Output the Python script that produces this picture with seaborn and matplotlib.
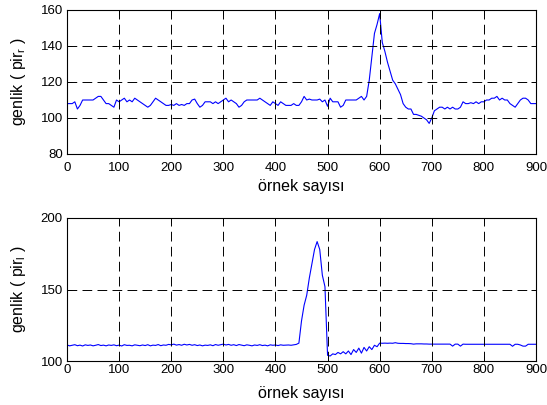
import numpy as np
import pandas as pd
import matplotlib
matplotlib.use("Agg")
import matplotlib.pyplot as plt
import seaborn as sns

# ---------------- data ----------------
step = 5

top_values = [
    108, 108, 108, 109, 105, 107, 110, 110, 110, 110,          # 0-45
    110, 111, 112, 112, 110, 108, 108, 107, 106, 110,          # 50-95
    109, 110, 111, 109, 110, 109, 111, 110, 109, 108,          # 100-145
    107, 106, 107, 109, 111, 110, 109, 108, 107, 107,          # 150-195
    107.5, 107, 108, 107, 107.5, 107, 108, 108, 110, 110.5,    # 200-245
    108, 106, 107, 109, 109, 109, 108, 109, 108, 109,          # 250-295
    110, 111, 109, 110, 109, 108, 106, 107, 109, 110,          # 300-345
    110, 110, 110, 110, 111, 110, 109, 108, 107, 109,          # 350-395
    108, 107, 109, 108, 107, 107, 107, 108, 107, 107,          # 400-445
    109, 112, 110, 110.5, 110, 110, 110, 110.5, 109, 110,      # 450-495
    106.5, 111, 109, 109, 109, 106, 107, 110, 110, 110,        # 500-545
    110, 110, 111, 112, 110, 112, 121, 134, 147, 152,          # 550-595
    158, 142, 137, 131, 126, 121, 119, 116, 113, 108,          # 600-645
    106, 105, 105, 102, 102, 101.5, 101, 100, 99, 97,          # 650-695
    100, 104, 105, 106, 106, 105, 106, 105, 106, 105,          # 700-745
    105, 106, 109, 108, 108, 108.5, 108, 109, 108, 109,        # 750-795
    109, 110, 110, 111, 111, 112, 110, 111, 110, 110,          # 800-845
    108, 107, 106, 108, 110, 111, 111, 110, 108, 108,          # 850-895
    108,                                                       # 900
]

bottom_values = [
    111.2, 110.6, 111.0, 111.4, 110.7, 111.1, 110.5, 111.3, 110.9, 111.2,   # 0-45
    110.6, 111.0, 111.5, 110.8, 111.1, 110.6, 111.2, 110.9, 111.3, 110.7,   # 50-95
    111.1, 110.5, 111.4, 110.9, 111.0, 110.6, 111.3, 111.0, 110.7, 111.2,   # 100-145
    110.8, 111.4, 110.6, 111.1, 110.9, 111.5, 110.7, 111.2, 111.0, 111.6,   # 150-195
    111.3, 111.8, 111.1, 111.5, 111.0, 111.7, 111.2, 111.6, 111.0, 111.4,   # 200-245
    110.8, 111.2, 110.6, 111.1, 110.9, 111.3, 110.7, 111.5, 111.0, 111.4,   # 250-295
    111.8, 111.2, 111.6, 111.0, 111.4, 110.8, 111.5, 111.1, 110.7, 111.3,   # 300-345
    111.0, 110.6, 111.2, 110.9, 111.4, 110.8, 111.1, 110.6, 111.3, 111.0,   # 350-395
    111.2, 110.8, 111.3, 111.0, 111.1, 111.2, 111.0, 111.3, 111.6, 112.5,   # 400-445
    128, 139, 146, 158, 168, 178, 183.5, 178, 160, 152,                     # 450-495
    104, 103.5, 105, 104.5, 106, 105, 106.5, 105, 107, 104.5,               # 500-545
    108, 106, 109, 105.5, 109.5, 107, 110, 108, 111, 110,                   # 550-595
    112.5, 112.4, 112.5, 112.4, 112.5, 112.4, 112.8, 112.4, 112.3, 112.3,   # 600-645
    112.2, 112.2, 112.1, 111.8, 112.0, 112.0, 112.0, 111.9, 111.9, 111.8,   # 650-695
    111.8, 111.8, 111.8, 111.8, 111.8, 111.8, 111.8, 111.8, 110.4, 111.8,   # 700-745
    111.8, 110.4, 111.8, 111.7, 111.7, 111.7, 111.7, 111.7, 111.7, 111.7,   # 750-795
    111.7, 111.7, 111.7, 111.7, 111.7, 111.7, 111.7, 111.7, 111.7, 111.7,   # 800-845
    111.7, 110.3, 111.7, 111.7, 111.2, 110.4, 110.4, 111.7, 111.7, 111.7,   # 850-895
    111.7,                                                                  # 900
]

x_ticks = [0, 100, 200, 300, 400, 500, 600, 700, 800, 900]
top_yticks = [80, 100, 120, 140, 160]
bottom_yticks = [100, 150, 200]

xlabel = "örnek sayısı"
top_ylabel = r"genlik ( pir$_\mathregular{r}$ )"
bottom_ylabel = r"genlik ( pir$_\mathregular{l}$ )"

# ---------------- style ----------------
sns.set_theme(style="white")
plt.rcParams["font.family"] = ["Liberation Sans", "DejaVu Sans"]
plt.rcParams["mathtext.fontset"] = "custom"
plt.rcParams["mathtext.rm"] = "Liberation Sans"
plt.rcParams["mathtext.default"] = "regular"
plt.rcParams["lines.scale_dashes"] = False

W, H = 547, 405
fig = plt.figure(figsize=(W / 100, H / 100), dpi=100)
fig.patch.set_facecolor("white")

def px_axes(left, top, right, bottom):
    return fig.add_axes([left / W, 1 - bottom / H, (right - left) / W, (bottom - top) / H])

ax1 = px_axes(67, 10, 536, 154)
ax2 = px_axes(67, 218, 536, 361)

df_top = pd.DataFrame({"sample": np.arange(len(top_values)) * step, "value": top_values})
df_bot = pd.DataFrame({"sample": np.arange(len(bottom_values)) * step, "value": bottom_values})

AX_W = 469.0
for ax, df, yt, ylab, xl_y, ax_h, xpad in [
        (ax1, df_top, top_yticks, top_ylabel, 186.5 - 154, 144.0, 5.5),
        (ax2, df_bot, bottom_yticks, bottom_ylabel, 393.5 - 361, 143.0, 2.5)]:
    sns.lineplot(data=df, x="sample", y="value", ax=ax, color="#0000ff",
                 linewidth=0.8, estimator=None)
    ax.set_xlim(0, 900)
    ax.set_ylim(yt[0], yt[-1])
    ax.set_xticks(x_ticks)
    ax.set_yticks(yt)
    ax.grid(True, color="black", linestyle=(0, (7.0, 3.8)), linewidth=0.7)
    ax.set_axisbelow(False)
    for s in ax.spines.values():
        s.set_color("black")
        s.set_linewidth(0.8)
        s.set_visible(True)
    ax.tick_params(axis="both", direction="in", length=3.6, width=0.7,
                   labelsize=9.5, colors="black",
                   top=True, right=True, bottom=True, left=True)
    ax.tick_params(axis="x", pad=xpad)
    ax.tick_params(axis="y", pad=3)
    ax.set_xlabel(xlabel, fontsize=11.5, color="black", va="center")
    ax.xaxis.set_label_coords(0.5, -xl_y / ax_h)
    ax.set_ylabel(ylab, fontsize=11.5, color="black", va="center")
    ax.yaxis.set_label_coords((18.5 - 67) / AX_W, 0.5)

fig.savefig("out.png", dpi=100, facecolor="white")
